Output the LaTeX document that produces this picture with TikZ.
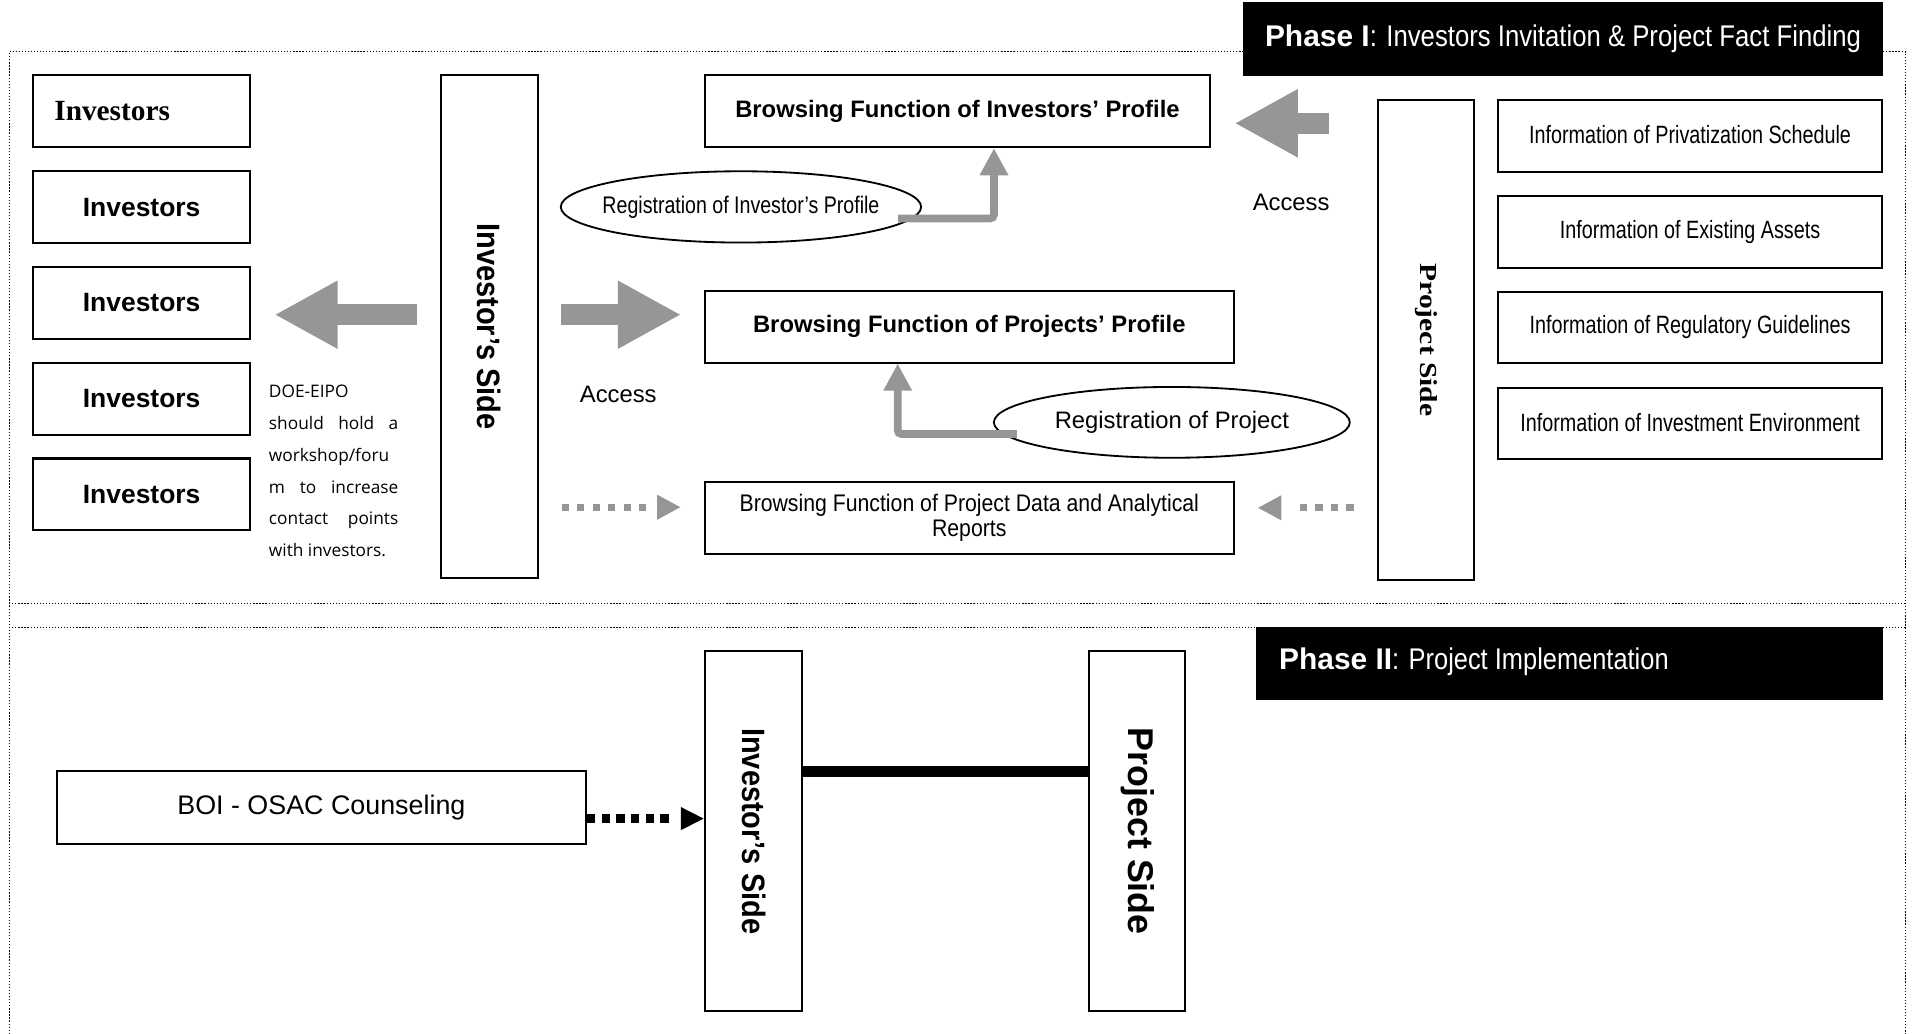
\documentclass[tikz,border=0pt]{standalone}
\usepackage{fontspec}
\usepackage{graphicx}
\usetikzlibrary{arrows.meta,shapes.geometric}
\newfontfamily\arialf{Liberation Sans}
\newfontfamily\timesf{Liberation Serif}
\newfontfamily\opensf{Open Sans}
\definecolor{agray}{RGB}{150,150,150}
\begin{document}
\begin{tikzpicture}[x=0.6pt,y=-0.6pt,
  box/.style={draw,line width=1pt,inner sep=0pt,align=center},
  ell/.style={draw,ellipse,line width=0.9pt,inner sep=0pt},
  frame/.style={line width=0.6pt,dash pattern=on 0.6pt off 0.9pt},
  bigarrow/.style={draw=agray,line width=10.56pt,-{Triangle[width=31.2pt,length=31.1pt]}},
  elbow/.style={draw=agray,line width=3.84pt,rounded corners=2pt,-{Triangle[width=13.2pt,length=13.3pt]}},
  dashgray/.style={draw=agray,line width=3.6pt,-{Triangle[width=11.4pt,length=11.6pt]}},
  invbox/.style={box,minimum width=106.38pt,minimum height=35.28pt,font={\arialf\bfseries\fontsize{13pt}{15pt}\selectfont}},
  infobox/.style={box,minimum width=189pt,minimum height=35.22pt,font={\arialf\fontsize{12.3pt}{14pt}\selectfont}},
  brwfont/.style={font={\arialf\bfseries\fontsize{11.7pt}{14pt}\selectfont}},
  titlefont/.style={font={\arialf\fontsize{14.7pt}{17pt}\selectfont},text=white}
]
\fill[white] (0,0) rectangle (1568,847);
\useasboundingbox (0,0) rectangle (1568,847);

% dotted frames
\draw[frame] (7.5,847) -- (7.5,42.3) -- (1561,42.3) -- (1561,847);
\draw[frame] (7.5,494.7) -- (1561,494.7);
\draw[frame] (7.5,514.1) -- (1561,514.1);

% Phase I title
\node[fill=black,inner sep=0pt,minimum width=314.88pt,minimum height=36.18pt] (p1bar) at (1280.3,32.15) {};
\node[titlefont,anchor=base west,inner sep=0pt] (p1txt) at (1036,38.2)
  {{\bfseries Phase I}\scalebox{0.86}[1]{: Investors Invitation \& Project Fact Finding}};

% Investors column
\node[box,minimum width=106.38pt,minimum height=35.28pt,text width=85.8pt,align=left,
  font={\timesf\bfseries\fontsize{14.4pt}{16pt}\selectfont}] (inv1) at (116.05,91.0) {Investors};
\node[invbox] (inv2) at (116.05,169.7) {Investors};
\node[invbox] (inv3) at (116.05,248.2) {Investors};
\node[invbox] (inv4) at (116.05,326.6) {Investors};
\node[invbox] (inv5) at (116.05,405.0) {Investors};

% DOE note
\node[anchor=base west,inner sep=0pt,font={\opensf\fontsize{8.5pt}{15.66pt}\selectfont}] (doe) at (220,325.6)
  {\vtop{\hsize=63.6pt\baselineskip=15.66pt
   \hbox to\hsize{DOE-EIPO\hfil}
   \hbox to\hsize{should\hfill hold\hfill a}
   \hbox to\hsize{workshop/foru\hfil}
   \hbox to\hsize{m\hfill to\hfill increase}
   \hbox to\hsize{contact\hfill points}
   \hbox to\hsize{with investors.\hfil}}};

% Investor's side (Phase I)
\node[box,minimum width=47.64pt,minimum height=247.08pt,font={\arialf\bfseries\fontsize{15.9pt}{18pt}\selectfont}]
  (isd1) at (400.7,267.5) {\rotatebox{-90}{\scalebox{0.896}[1]{Investor’s Side}}};

% Project side (Phase I)
\node[box,minimum width=47.28pt,minimum height=235.68pt,font={\timesf\bfseries\fontsize{12pt}{14pt}\selectfont}]
  (psd1) at (1168.2,278.5) {\rotatebox{-90}{\scalebox{1.21}[1]{Project Side}}};

% Information boxes
\node[infobox] (inf1) at (1384.5,111.5) {\raisebox{1.2pt}{\scalebox{0.79}[1]{Information of Privatization Schedule}}};
\node[infobox] (inf2) at (1384.5,189.9) {\scalebox{0.79}[1]{Information of Existing Assets}};
\node[infobox] (inf3) at (1384.5,268.3) {\scalebox{0.79}[1]{Information of Regulatory Guidelines}};
\node[infobox] (inf4) at (1384.5,347.0) {\raisebox{1.2pt}{\scalebox{0.79}[1]{Information of Investment Environment}}};

% Browsing boxes
\node[box,brwfont,minimum width=248.22pt,minimum height=35.4pt] (brw1) at (784.35,91.1)
  {Browsing Function of Investors’ Profile};
\node[box,brwfont,minimum width=259.86pt,minimum height=35.4pt] (brw2) at (794.05,267.5)
  {Browsing Function of Projects’ Profile};
\node[box,minimum width=259.86pt,minimum height=35.43pt,font={\arialf\fontsize{11.8pt}{12.2pt}\selectfont}] (brw3) at (794.05,424.2)
  {\scalebox{0.885}[1]{Browsing Function of Project Data and Analytical}\\\scalebox{0.885}[1]{Reports}};

% Ellipses
\node[ell,minimum width=177.12pt,minimum height=35.04pt,font={\arialf\fontsize{11.8pt}{14pt}\selectfont}] (ell1) at (607,169.5)
  {\makebox[0pt][c]{\scalebox{0.816}[1]{Registration of Investor’s Profile}}};
\node[ell,minimum width=174.96pt,minimum height=34.8pt,font={\arialf\fontsize{11.7pt}{14pt}\selectfont}] (ell2) at (960,346)
  {\makebox[0pt][c]{Registration of Project}};

% Access labels
\node[anchor=base,inner sep=0pt,font={\arialf\fontsize{11.7pt}{14pt}\selectfont}] (acc1) at (506.5,329.7) {Access};
\node[anchor=base,inner sep=0pt,font={\arialf\fontsize{11.7pt}{14pt}\selectfont}] (acc2) at (1057.7,172.8) {Access};

% big grey arrows
\coordinate (la1) at (341.7,257.8); \coordinate (la2) at (224.8,257.8);
\coordinate (ra1) at (459.8,257.8); \coordinate (ra2) at (558,257.8);
\coordinate (ta1) at (1089,101);    \coordinate (ta2) at (1011.3,101);
\draw[bigarrow] (la1) -- (la2);
\draw[bigarrow] (ra1) -- (ra2);
\draw[bigarrow] (ta1) -- (ta2);

% elbow arrows
\coordinate (e1s) at (735.7,179);
\draw[elbow] (e1s) -| ([xshift=17.97pt]brw1.south);
\coordinate (e2s) at (833,355.6);
\draw[elbow] (e2s) -| ([xshift=-35.19pt]brw2.south);

% dashed grey arrows
\coordinate (dl1) at (460,415.5); \coordinate (dl2) at (557.7,415.5);
\draw[dashgray,dash pattern=on 3.6pt off 4.02pt on 3.6pt off 4.02pt on 3.6pt off 4.02pt on 3.6pt off 4.02pt on 3.6pt off 4.02pt on 3.6pt off 14pt] (dl1) -- (dl2);
\coordinate (dr1) at (1109,416); \coordinate (dr2) at (1030.3,416);
\draw[dashgray,dash pattern=on 3.6pt off 4.02pt on 3.6pt off 4.02pt on 3.6pt off 4.02pt on 3.6pt off 14pt] (dr1) -- (dr2);

% Phase II title
\node[fill=black,inner sep=0pt,minimum width=308.22pt,minimum height=35.94pt] (p2bar) at (1285.85,543.75) {};
\node[titlefont,anchor=base west,inner sep=0pt] (p2txt) at (1047.6,548.7)
  {{\bfseries Phase II}\scalebox{0.85}[1]{: Project Implementation}};

% Phase II boxes
\node[box,minimum width=260.04pt,minimum height=35.64pt,font={\arialf\fontsize{13.2pt}{15pt}\selectfont}] (boi) at (263.3,661.5)
  {BOI - OSAC Counseling};
\node[box,minimum width=47.58pt,minimum height=177.06pt,font={\arialf\bfseries\fontsize{15.9pt}{18pt}\selectfont}]
  (isd2) at (617.35,680.95) {\rotatebox{-90}{\scalebox{0.896}[1]{Investor’s Side}}};
\node[box,minimum width=47.16pt,minimum height=177.06pt,font={\arialf\bfseries\fontsize{17.6pt}{20pt}\selectfont}]
  (psd2) at (931.8,680.95) {\rotatebox{-90}{Project Side}};

% connectors phase II
\draw[line width=5.1pt] ([yshift=29.4pt]isd2.east) -- ([yshift=29.4pt]psd2.west);
\coordinate (b1) at ([yshift=-5.46pt]boi.east);
\draw[line width=4.8pt,dash pattern=on 4.2pt off 3pt on 4.2pt off 3pt on 4.2pt off 3pt on 4.2pt off 3pt on 4.2pt off 3pt on 4.2pt off 14pt,
  -{Triangle[width=10.4pt,length=11.4pt]}] (b1) -- (b1 -| isd2.west);
\end{tikzpicture}
\end{document}
